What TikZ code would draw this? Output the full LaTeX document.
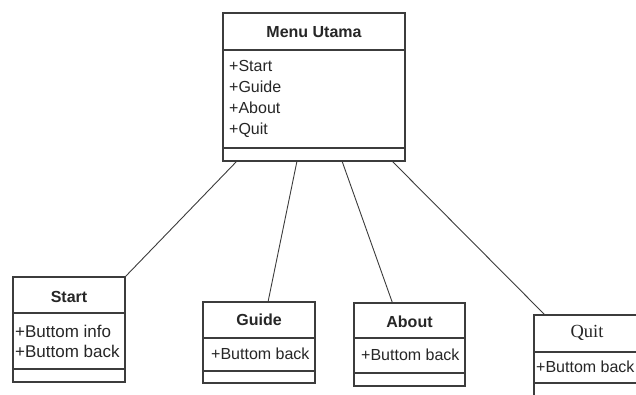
\documentclass[tikz,border=0pt]{standalone}
\usepackage{fontspec}
\setmainfont{Liberation Sans}
\newfontfamily\serifname{Liberation Serif}
\usetikzlibrary{calc}
\definecolor{linec}{HTML}{3C3C3C}
\definecolor{textc}{HTML}{262626}
\begin{document}
\begin{tikzpicture}[x=1pt,y=-1pt,
  classbox/.style={draw=linec, line width=1.3pt, fill=white, inner sep=0pt,
    outer sep=0pt, anchor=north west},
  sepline/.style={draw=linec, line width=1.2pt},
  assoc/.style={draw=linec, line width=0.9pt},
  classname/.style={text=textc, font=\fontsize{16}{19}\selectfont\bfseries, inner sep=0pt},
  member/.style={text=textc, font=\fontsize{16}{19}\selectfont, inner sep=0pt, anchor=west}]
\useasboundingbox (0,0) rectangle (636,394);
\clip (0,0) rectangle (636,394);

% Menu Utama class
\node[classbox, minimum width=182pt, minimum height=148pt] (menu) at (223,13) {};
\draw[sepline] ([yshift=-37pt]menu.north west) -- ([yshift=-37pt]menu.north east);
\draw[sepline] ([yshift=-135pt]menu.north west) -- ([yshift=-135pt]menu.north east);
\node[classname] (menuT) at (314,32) {Menu Utama};
\node[member] (menuA1) at (229,66) {+Start};
\node[member] (menuA2) at (229,87) {+Guide};
\node[member] (menuA3) at (229,108) {+About};
\node[member] (menuA4) at (229,130) {+Quit};

% Start class
\node[classbox, minimum width=112pt, minimum height=105pt] (start) at (13,277) {};
\draw[sepline] ([yshift=-36pt]start.north west) -- ([yshift=-36pt]start.north east);
\draw[sepline] ([yshift=-92pt]start.north west) -- ([yshift=-92pt]start.north east);
\node[classname] (startT) at (69,297) {Start};
\node[member, font=\fontsize{17}{20}\selectfont] (startA1) at (15,331) {+Buttom info};
\node[member, font=\fontsize{17}{20}\selectfont] (startA2) at (15,351) {+Buttom back};

% Guide class
\node[classbox, minimum width=112pt, minimum height=81pt] (guide) at (203,302) {};
\draw[sepline] ([yshift=-36pt]guide.north west) -- ([yshift=-36pt]guide.north east);
\draw[sepline] ([yshift=-69pt]guide.north west) -- ([yshift=-69pt]guide.north east);
\node[classname] (guideT) at (259,320) {Guide};
\node[member] (guideA1) at (211,354) {+Buttom back};

% About class
\node[classbox, minimum width=111pt, minimum height=83pt] (about) at (354,303) {};
\draw[sepline] ([yshift=-35pt]about.north west) -- ([yshift=-35pt]about.north east);
\draw[sepline] ([yshift=-70pt]about.north west) -- ([yshift=-70pt]about.north east);
\node[classname] (aboutT) at (409.5,322) {About};
\node[member] (aboutA1) at (361,355) {+Buttom back};

% Quit class
\node[classbox, minimum width=106pt, minimum height=100pt] (quit) at (534,315) {};
\draw[sepline] ([yshift=-37pt]quit.north west) -- ([yshift=-37pt]quit.north east);
\draw[sepline] ([yshift=-68pt]quit.north west) -- ([yshift=-68pt]quit.north east);
\node[classname, font=\fontsize{18.5}{21}\selectfont\serifname] (quitT) at (587,333) {Quit};
\node[member] (quitA1) at (536,367) {+Buttom back};

% associations
\draw[assoc] ($(menu.south west)+(14,0)$) -- (start.north east);
\draw[assoc] ($(menu.south west)+(74,0)$) -- ($(guide.north)+(9,0)$);
\draw[assoc] ($(menu.south west)+(119,0)$) -- ($(about.north)+(-17,0)$);
\draw[assoc] ($(menu.south west)+(169,0)$) -- ($(quit.north west)+(11,0)$);
\end{tikzpicture}
\end{document}
